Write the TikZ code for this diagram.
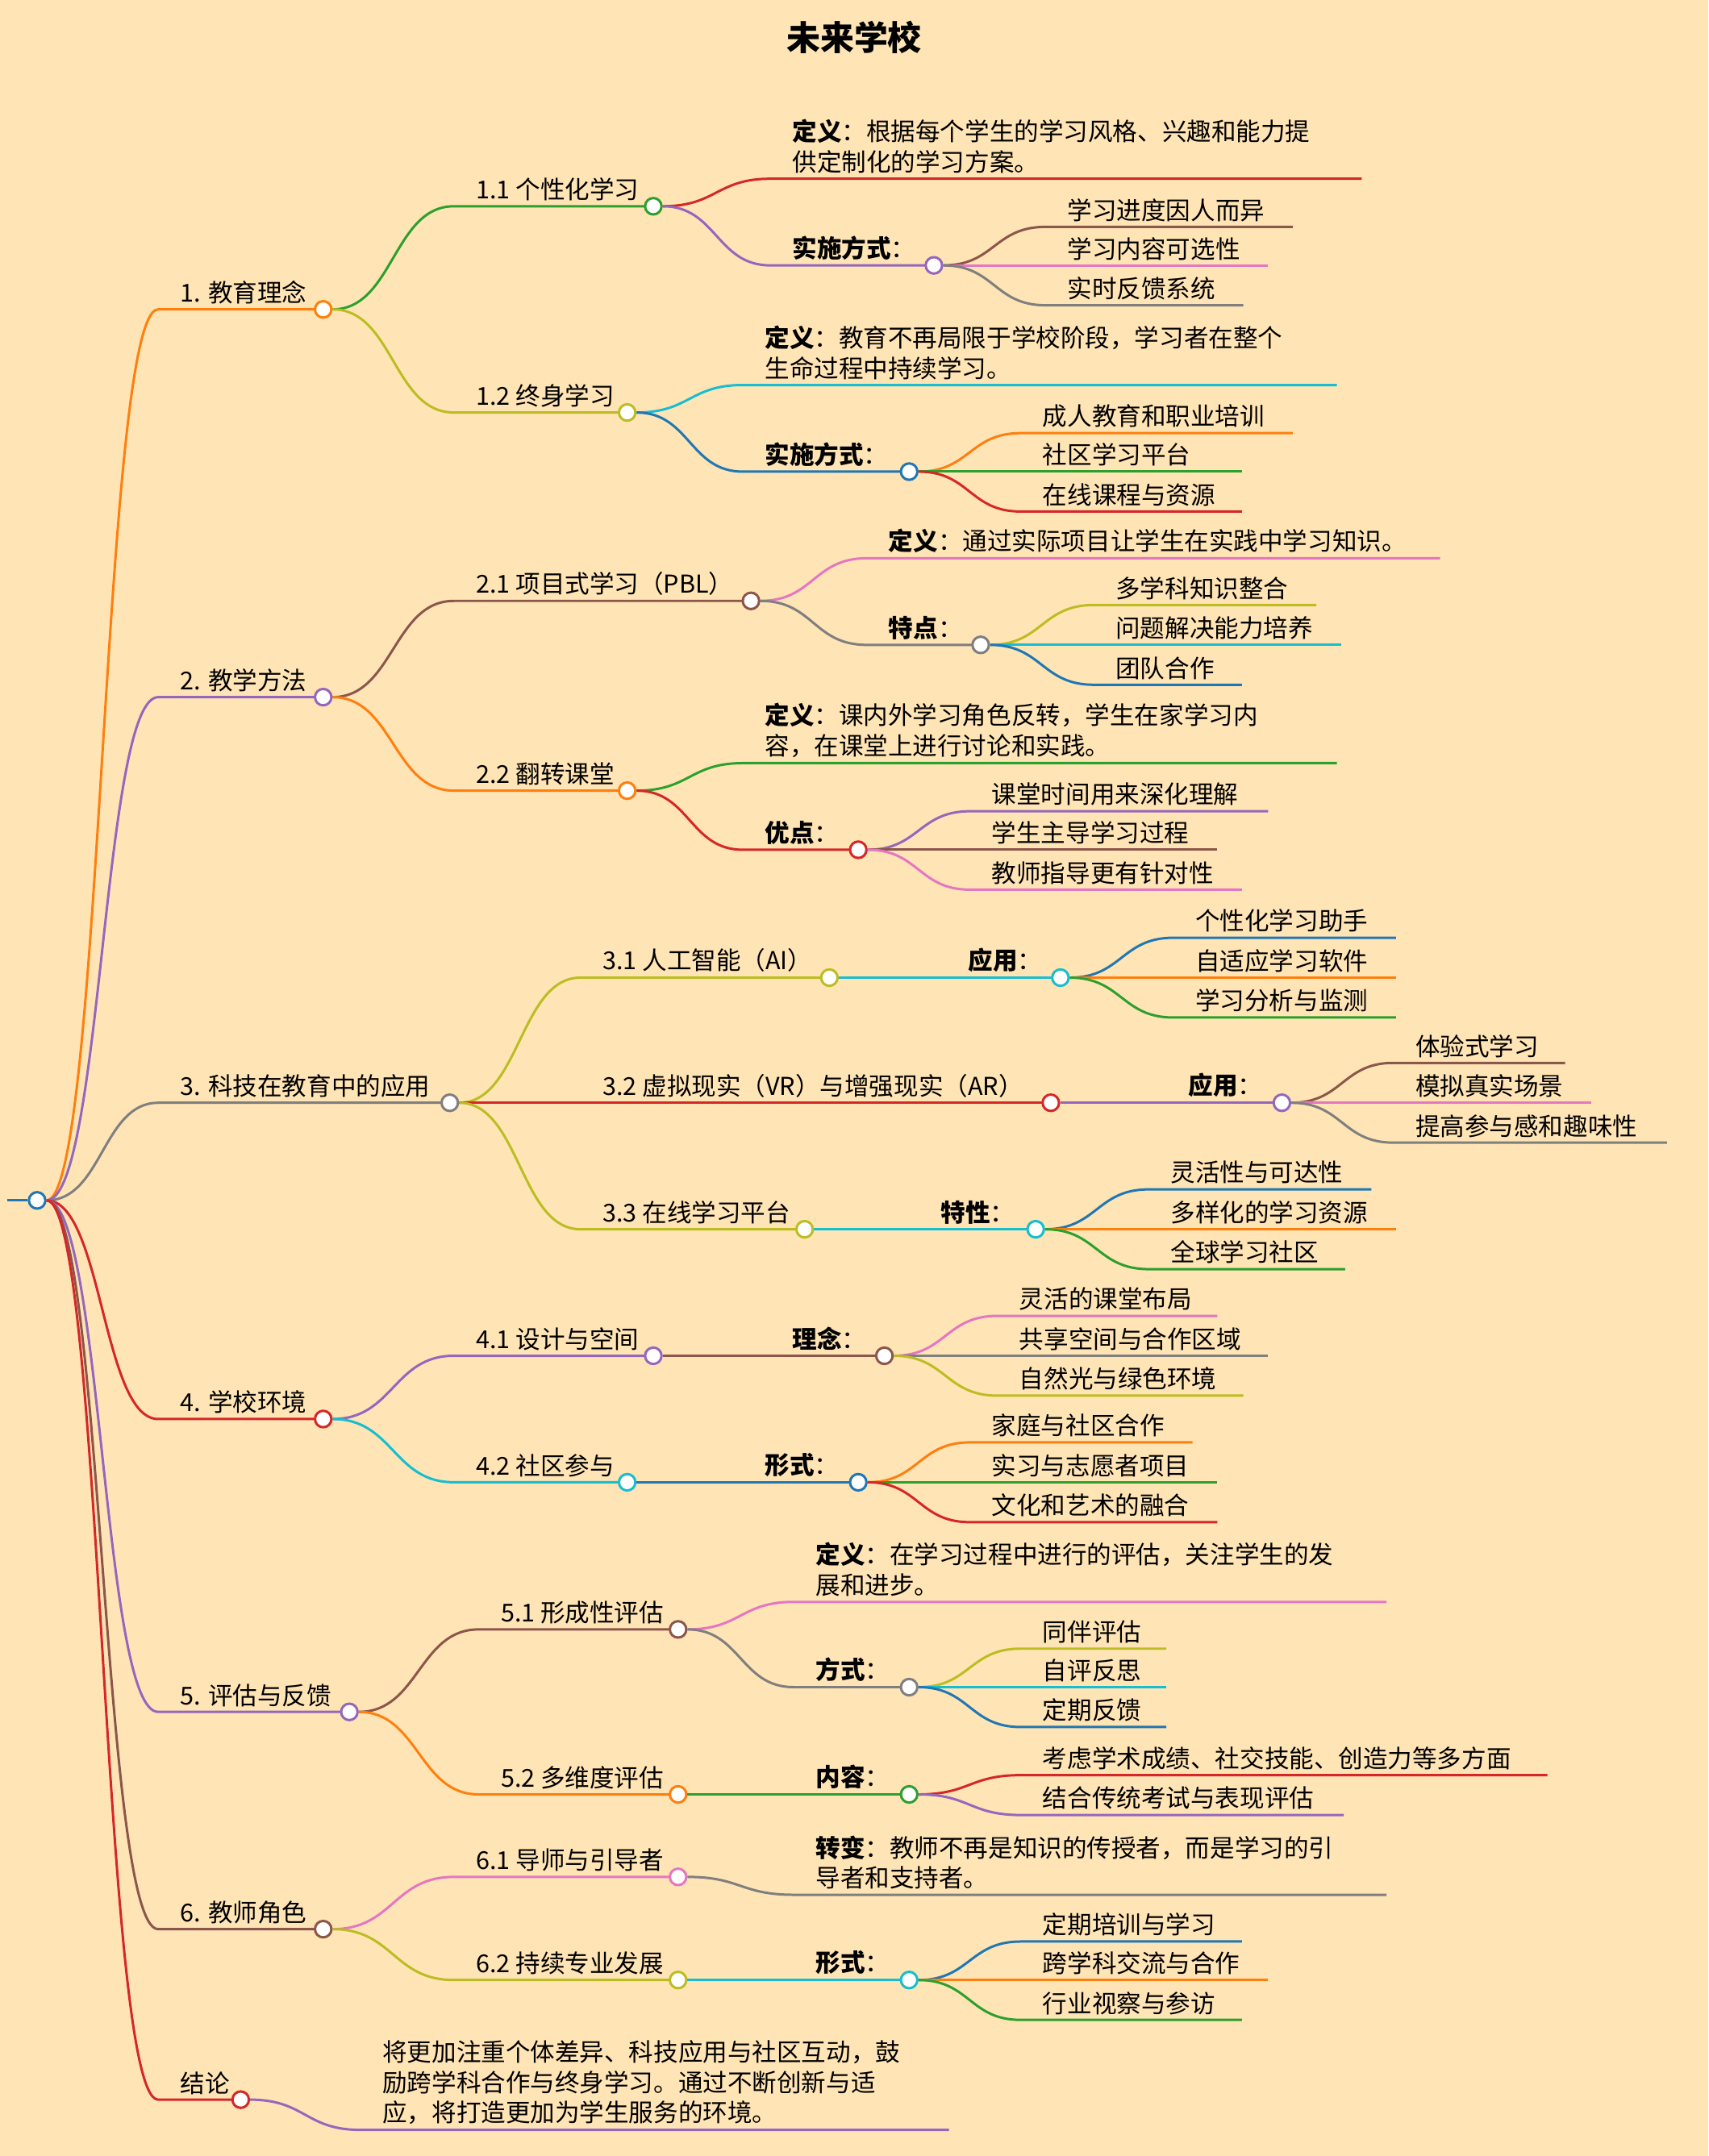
\documentclass[tikz,border=0pt]{standalone}
\usepackage{fontspec}
\setmainfont{Noto Sans CJK SC}
\usepackage{xcolor}
\usetikzlibrary{calc}
\definecolor{bg}{HTML}{FFE4B5}
\definecolor{tblue}{HTML}{1F77B4}
\definecolor{torange}{HTML}{FF7F0E}
\definecolor{tgreen}{HTML}{2CA02C}
\definecolor{tred}{HTML}{D62728}
\definecolor{tpurple}{HTML}{9467BD}
\definecolor{tbrown}{HTML}{8C564B}
\definecolor{tpink}{HTML}{E377C2}
\definecolor{tgray}{HTML}{7F7F7F}
\definecolor{tolive}{HTML}{BCBD22}
\definecolor{tcyan}{HTML}{17BECF}

% branch with a dot at its end
\newcommand{\mmnode}[7]{%
	\draw[edge=#6] let \p1=(#1.east), \p2=(#3,#5) in
		(\p1) .. controls (\x1*0.5+\x2*0.5,\y1) and (\x1*0.5+\x2*0.5,\y2) .. (\p2)
		-- (#4,#5) node[dot=#6] (#2) {};
	\node[lbl] at (#3,#5) {#7};
}
% branch without a dot
\newcommand{\mmleaf}[7]{%
	\draw[edge=#6] let \p1=(#1.east), \p2=(#3,#5) in
		(\p1) .. controls (\x1*0.5+\x2*0.5,\y1) and (\x1*0.5+\x2*0.5,\y2) .. (\p2)
		-- (#4,#5) coordinate (#2);
	\node[lbl] at (#3,#5) {#7};
}

\begin{document}
\begin{tikzpicture}
		[x=0.02cm,y=-0.02cm,
		edge/.style={draw=#1,line width=1pt},
		dot/.style={draw=#1,fill=white,circle,inner sep=0pt,minimum size=6.8pt,line width=1pt},
		lbl/.style={anchor=south west,inner sep=2pt,xshift=7pt,align=left,font=\fontsize{10.2}{12.6}\selectfont}
		]
		\fill[bg] (0,0) rectangle (1242,1568);
		\useasboundingbox (0,0) rectangle (1242,1568);
		\node[font=\fontsize{14}{16}\selectfont\bfseries] (title) at (621,27) {未来学校};
		
		% root
		\node[dot=tblue] (root) at (27,873) {};
		\draw[edge=tblue] (5,873) -- (root);
		
		% 1
		\mmnode{root}{n1}{115}{235}{225}{torange}{1. 教育理念}
		\mmnode{n1}{n11}{330}{475}{150}{tgreen}{1.1 个性化学习}
		\mmleaf{n11}{n11a}{560}{990}{130}{tred}{\textbf{定义}：根据每个学生的学习风格、兴趣和能力提\\供定制化的学习方案。}
		\mmnode{n11}{n11b}{560}{679}{193}{tpurple}{\textbf{实施方式}：}
		\mmleaf{n11b}{n11b1}{760}{940}{165}{tbrown}{学习进度因人而异}
		\mmleaf{n11b}{n11b2}{760}{922}{193}{tpink}{学习内容可选性}
		\mmleaf{n11b}{n11b3}{760}{904}{222}{tgray}{实时反馈系统}
		\mmnode{n1}{n12}{330}{456}{300}{tolive}{1.2 终身学习}
		\mmleaf{n12}{n12a}{540}{972}{280}{tcyan}{\textbf{定义}：教育不再局限于学校阶段，学习者在整个\\生命过程中持续学习。}
		\mmnode{n12}{n12b}{540}{661}{343}{tblue}{\textbf{实施方式}：}
		\mmleaf{n12b}{n12b1}{742}{940}{315}{torange}{成人教育和职业培训}
		\mmleaf{n12b}{n12b2}{742}{903}{343}{tgreen}{社区学习平台}
		\mmleaf{n12b}{n12b3}{742}{903}{372}{tred}{在线课程与资源}
		
		% 2
		\mmnode{root}{n2}{115}{235}{507}{tpurple}{2. 教学方法}
		\mmnode{n2}{n21}{330}{546}{437}{tbrown}{2.1 项目式学习（PBL）}
		\mmleaf{n21}{n21a}{630}{1047}{406}{tpink}{\textbf{定义}：通过实际项目让学生在实践中学习知识。}
		\mmnode{n21}{n21b}{630}{713}{469}{tgray}{\textbf{特点}：}
		\mmleaf{n21b}{n21b1}{795}{957}{440}{tolive}{多学科知识整合}
		\mmleaf{n21b}{n21b2}{795}{975}{469}{tcyan}{问题解决能力培养}
		\mmleaf{n21b}{n21b3}{795}{903}{498}{tblue}{团队合作}
		\mmnode{n2}{n22}{330}{456}{575}{torange}{2.2 翻转课堂}
		\mmleaf{n22}{n22a}{540}{972}{555}{tgreen}{\textbf{定义}：课内外学习角色反转，学生在家学习内\\容，在课堂上进行讨论和实践。}
		\mmnode{n22}{n22b}{540}{624}{618}{tred}{\textbf{优点}：}
		\mmleaf{n22b}{n22b1}{705}{922}{590}{tpurple}{课堂时间用来深化理解}
		\mmleaf{n22b}{n22b2}{705}{885}{618}{tbrown}{学生主导学习过程}
		\mmleaf{n22b}{n22b3}{705}{903}{647}{tpink}{教师指导更有针对性}
		
		% 3
		\mmnode{root}{n3}{115}{327}{802}{tgray}{3. 科技在教育中的应用}
		\mmnode{n3}{n31}{422}{603}{711}{tolive}{3.1 人工智能（AI）}
		\mmnode{n31}{n31a}{688}{771}{711}{tcyan}{\textbf{应用}：}
		\mmleaf{n31a}{n31a1}{853}{1015}{682}{tblue}{个性化学习助手}
		\mmleaf{n31a}{n31a2}{853}{1015}{711}{torange}{自适应学习软件}
		\mmleaf{n31a}{n31a3}{853}{1015}{740}{tgreen}{学习分析与监测}
		\mmnode{n3}{n32}{422}{764}{802}{tred}{3.2 虚拟现实（VR）与增强现实（AR）}
		\mmnode{n32}{n32a}{848}{932}{802}{tpurple}{\textbf{应用}：}
		\mmleaf{n32a}{n32a1}{1013}{1138}{773}{tbrown}{体验式学习}
		\mmleaf{n32a}{n32a2}{1013}{1157}{802}{tpink}{模拟真实场景}
		\mmleaf{n32a}{n32a3}{1013}{1212}{831}{tgray}{提高参与感和趣味性}
		\mmnode{n3}{n33}{422}{585}{894}{tolive}{3.3 在线学习平台}
		\mmnode{n33}{n33a}{668}{753}{894}{tcyan}{\textbf{特性}：}
		\mmleaf{n33a}{n33a1}{835}{997}{865}{tblue}{灵活性与可达性}
		\mmleaf{n33a}{n33a2}{835}{1015}{894}{torange}{多样化的学习资源}
		\mmleaf{n33a}{n33a3}{835}{978}{923}{tgreen}{全球学习社区}
		
		% 4
		\mmnode{root}{n4}{115}{235}{1032}{tred}{4. 学校环境}
		\mmnode{n4}{n41}{330}{475}{986}{tpurple}{4.1 设计与空间}
		\mmnode{n41}{n41a}{560}{643}{986}{tbrown}{\textbf{理念}：}
		\mmleaf{n41a}{n41a1}{725}{885}{957}{tpink}{灵活的课堂布局}
		\mmleaf{n41a}{n41a2}{725}{922}{986}{tgray}{共享空间与合作区域}
		\mmleaf{n41a}{n41a3}{725}{904}{1015}{tolive}{自然光与绿色环境}
		\mmnode{n4}{n42}{330}{456}{1078}{tcyan}{4.2 社区参与}
		\mmnode{n42}{n42a}{540}{624}{1078}{tblue}{\textbf{形式}：}
		\mmleaf{n42a}{n42a1}{705}{867}{1049}{torange}{家庭与社区合作}
		\mmleaf{n42a}{n42a2}{705}{885}{1078}{tgreen}{实习与志愿者项目}
		\mmleaf{n42a}{n42a3}{705}{885}{1107}{tred}{文化和艺术的融合}
		
		% 5
		\mmnode{root}{n5}{115}{254}{1245}{tpurple}{5. 评估与反馈}
		\mmnode{n5}{n51}{348}{493}{1185}{tbrown}{5.1 形成性评估}
		\mmleaf{n51}{n51a}{577}{1008}{1165}{tpink}{\textbf{定义}：在学习过程中进行的评估，关注学生的发\\展和进步。}
		\mmnode{n51}{n51b}{577}{661}{1227}{tgray}{\textbf{方式}：}
		\mmleaf{n51b}{n51b1}{742}{848}{1199}{tolive}{同伴评估}
		\mmleaf{n51b}{n51b2}{742}{848}{1227}{tcyan}{自评反思}
		\mmleaf{n51b}{n51b3}{742}{848}{1256}{tblue}{定期反馈}
		\mmnode{n5}{n52}{348}{493}{1305}{torange}{5.2 多维度评估}
		\mmnode{n52}{n52a}{577}{661}{1305}{tgreen}{\textbf{内容}：}
		\mmleaf{n52a}{n52a1}{742}{1125}{1291}{tred}{考虑学术成绩、社交技能、创造力等多方面}
		\mmleaf{n52a}{n52a2}{742}{977}{1320}{tpurple}{结合传统考试与表现评估}
		
		% 6
		\mmnode{root}{n6}{115}{235}{1403}{tbrown}{6. 教师角色}
		\mmnode{n6}{n61}{330}{493}{1365}{tpink}{6.1 导师与引导者}
		\mmleaf{n61}{n61a}{577}{1008}{1378}{tgray}{\textbf{转变}：教师不再是知识的传授者，而是学习的引\\导者和支持者。}
		\mmnode{n6}{n62}{330}{493}{1440}{tolive}{6.2 持续专业发展}
		\mmnode{n62}{n62a}{577}{661}{1440}{tcyan}{\textbf{形式}：}
		\mmleaf{n62a}{n62a1}{742}{903}{1412}{tblue}{定期培训与学习}
		\mmleaf{n62a}{n62a2}{742}{922}{1440}{torange}{跨学科交流与合作}
		\mmleaf{n62a}{n62a3}{742}{903}{1469}{tgreen}{行业视察与参访}
		
		% conclusion
		\mmnode{root}{n7}{115}{175}{1527}{tred}{结论}
		\mmleaf{n7}{n7a}{262}{690}{1549}{tpurple}{将更加注重个体差异、科技应用与社区互动，鼓\\励跨学科合作与终身学习。通过不断创新与适\\应，将打造更加为学生服务的环境。}
	\end{tikzpicture}
\end{document}
